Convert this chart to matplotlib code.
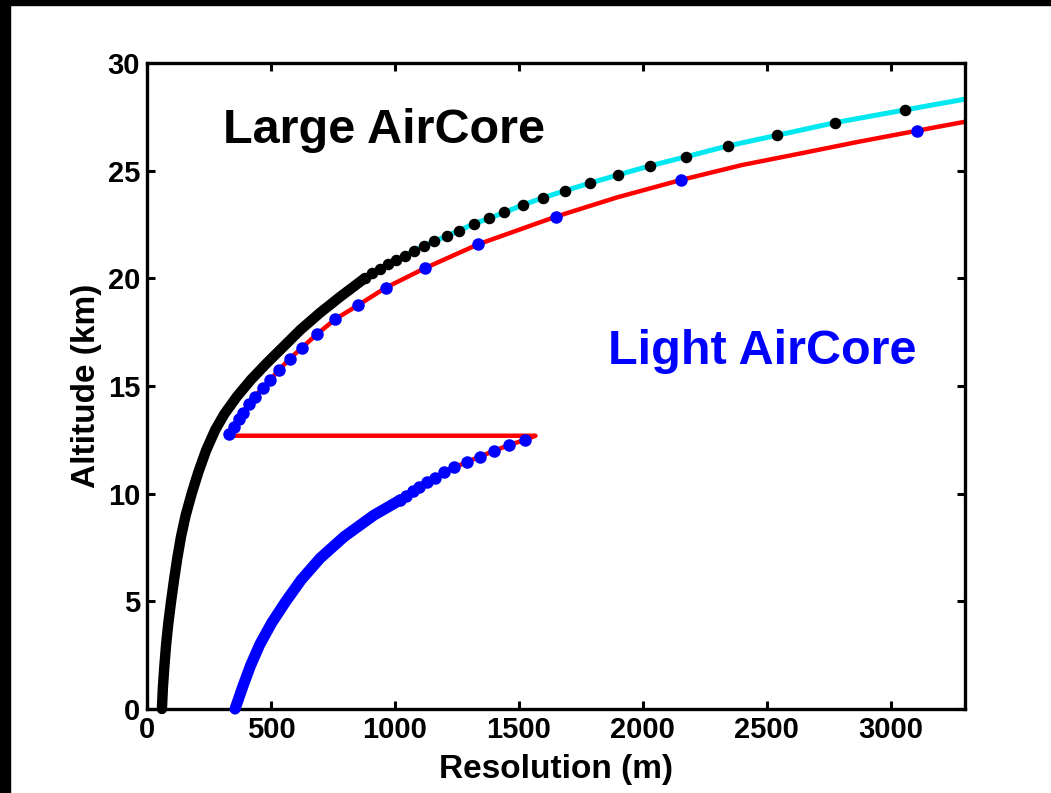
"""Altitude vs vertical resolution for the two AirCore designs."""
import matplotlib
matplotlib.use("Agg")
import matplotlib.pyplot as plt
import matplotlib.patches as mpatches

plt.rcParams["font.family"] = ["Liberation Sans", "DejaVu Sans"]
plt.rcParams["font.weight"] = "bold"

# ── data ─────────────────────────────────────────────────────────────────────

# Large AirCore: densely sampled lower part (dots merge into a band)
large_dense_res = [60, 64, 70, 77, 86, 97, 109, 122, 137, 156, 180, 207, 238,
                   275, 312, 362, 420, 483, 548, 618, 698, 780, 878]
large_dense_alt = [0, 1, 2, 3, 4, 5, 6, 7, 8, 9, 10, 11, 12,
                   12.96, 13.7, 14.5, 15.3, 16.06, 16.8, 17.6, 18.4, 19.15, 20.0]

# Large AirCore: individual sample dots in the upper part
large_dot_res = [878, 907, 941, 972, 1005, 1040, 1078, 1118, 1158, 1210, 1260,
                 1318, 1378, 1442, 1516, 1598, 1687, 1786, 1900, 2028, 2176,
                 2344, 2541, 2776, 3058]
large_dot_alt = [20.00, 20.24, 20.44, 20.67, 20.85, 21.05, 21.29, 21.51, 21.72,
                 21.97, 22.22, 22.53, 22.78, 23.06, 23.41, 23.74, 24.07, 24.42,
                 24.80, 25.22, 25.65, 26.15, 26.64, 27.23, 27.82]

# Large AirCore model curve (cyan), continues past the plot edge
cyan_res = large_dense_res + large_dot_res[1:] + [3300]
cyan_alt = large_dense_alt + large_dot_alt[1:] + [28.32]

# Light AirCore: dense lower branch
light_dense_res = [355, 385, 417, 455, 503, 560, 622, 698, 795, 915, 1022]
light_dense_alt = [0, 1, 2, 3, 4, 5, 6, 7, 8, 9, 9.71]

# Light AirCore: individual sample dots (lower branch, then upper branch)
light_dot_res = [1022, 1046, 1073, 1099, 1130, 1163, 1200, 1240, 1291, 1342,
                 1399, 1460, 1523,
                 331, 351, 369, 389, 412, 436, 467, 497, 533, 575, 625, 685,
                 759, 851, 964, 1121, 1336, 1651, 2155, 3105]
light_dot_alt = [9.71, 9.91, 10.14, 10.33, 10.55, 10.75, 10.99, 11.22, 11.47,
                 11.72, 11.98, 12.26, 12.49,
                 12.75, 13.08, 13.45, 13.76, 14.17, 14.51, 14.92, 15.28, 15.75,
                 16.26, 16.78, 17.40, 18.10, 18.75, 19.57, 20.47, 21.58, 22.87,
                 24.57, 26.85]

# Light AirCore model curve (red), with the jump at ~12.7 km
red_res = (light_dense_res + light_dot_res[1:13] + [1567, 331]
           + light_dot_res[14:31]
           + [1897, 2155, 2400, 2637, 2870, 3105, 3300])
red_alt = (light_dense_alt + light_dot_alt[1:13] + [12.69, 12.69]
           + light_dot_alt[14:31]
           + [23.76, 24.57, 25.26, 25.80, 26.34, 26.85, 27.27])

# ── figure ───────────────────────────────────────────────────────────────────

fig = plt.figure(figsize=(10.51, 7.93), dpi=100)
ax = fig.add_axes([0.1399, 0.1059, 0.7783, 0.8147])

ax.plot(cyan_res, cyan_alt, color="#00E8F0", lw=3.6, zorder=2)
ax.plot(large_dense_res, large_dense_alt, color="black", lw=7.5,
        solid_capstyle="round", solid_joinstyle="round", zorder=3, clip_on=False)
ax.plot(large_dot_res, large_dot_alt, "o", color="black", ms=7.3, zorder=4)

ax.plot(red_res, red_alt, color="#FF0000", lw=3.2, zorder=2,
        solid_joinstyle="round")
ax.plot(light_dense_res, light_dense_alt, color="#0000FF", lw=8,
        solid_capstyle="round", solid_joinstyle="round", zorder=3, clip_on=False)
ax.plot(light_dot_res, light_dot_alt, "o", color="#0000FF", ms=8, zorder=4)

ax.text(307, 26.3, "Large AirCore", fontsize=35, fontweight="bold",
        color="black", ha="left", va="baseline")
ax.text(1858, 16.0, "Light AirCore", fontsize=35, fontweight="bold",
        color="#0000FF", ha="left", va="baseline")

ax.set_xlim(0, 3300)
ax.set_ylim(0, 30)
ax.set_xticks([0, 500, 1000, 1500, 2000, 2500, 3000])
ax.set_yticks([0, 5, 10, 15, 20, 25, 30])
ax.tick_params(direction="in", length=6, width=2.2, labelsize=21,
               top=True, right=True, pad=5)
for s in ax.spines.values():
    s.set_linewidth(2.4)

ax.set_xlabel("Resolution (m)", fontsize=24, fontweight="bold", labelpad=7)
ax.set_ylabel("Altitude (km)", fontsize=24, fontweight="bold", labelpad=4)

# black frame strips along the top and left edge of the picture
fig.patches.append(mpatches.Rectangle((0, 1 - 5 / 793), 1, 5 / 793,
                                      transform=fig.transFigure,
                                      color="black", zorder=10))
fig.patches.append(mpatches.Rectangle((0, 0), 10 / 1051, 1,
                                      transform=fig.transFigure,
                                      color="black", zorder=10))

fig.savefig("out.png", dpi=100)
plt.close()
